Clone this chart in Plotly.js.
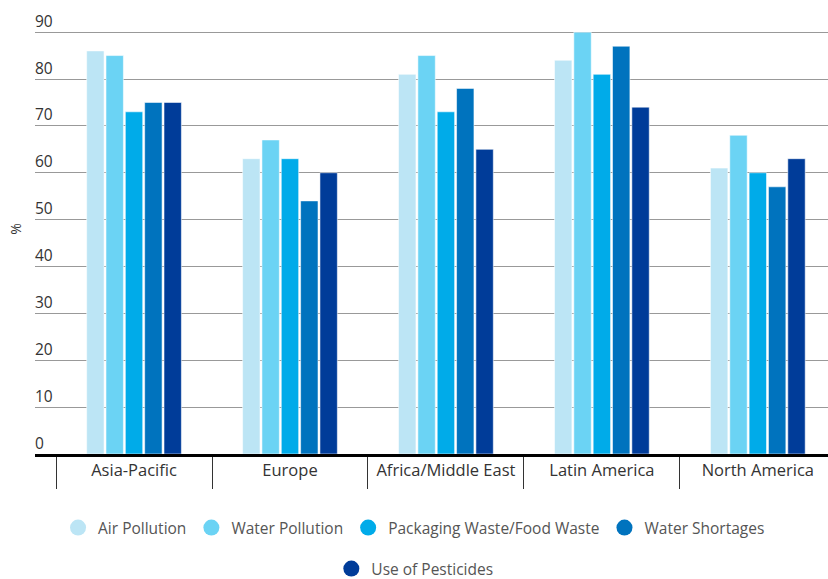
<!DOCTYPE html>
<html>
<head>
<meta charset="utf-8">
<script src="https://cdn.plot.ly/plotly-3.0.1.min.js"></script>
<style>html,body{margin:0;padding:0;background:#fff;}#chart{width:828px;height:579px;}</style>
</head>
<body>
<div id="chart"></div>
<script>
const regions = ["Asia-Pacific", "Europe", "Africa/Middle East", "Latin America", "North America"];
const seriesNames = ["Air Pollution", "Water Pollution", "Packaging Waste/Food Waste", "Water Shortages", "Use of Pesticides"];
const airPollution = [86, 63, 81, 84, 61];
const waterPollution = [85, 67, 85, 90, 68];
const packagingWaste = [73, 63, 73, 81, 60];
const waterShortages = [75, 54, 78, 87, 57];
const pesticides = [75, 60, 65, 74, 63];
const yTicks = [0, 10, 20, 30, 40, 50, 60, 70, 80, 90];

const seriesValues = [airPollution, waterPollution, packagingWaste, waterShortages, pesticides];
const colors = ["#bce5f5", "#6bd3f4", "#00abe9", "#0073be", "#003c99"];
const FONT = "Open Sans, sans-serif";

const traces = [];
seriesValues.forEach((vals, i) => {
  traces.push({
    type: "bar", x: regions, y: vals, name: seriesNames[i],
    marker: {color: colors[i], line: {color: "rgba(255,255,255,0.55)", width: 1}},
    showlegend: false, hoverinfo: "x+y+name"
  });
});
seriesValues.forEach((vals, i) => {
  traces.push({
    type: "scatter", mode: "markers", x: [null], y: [null], name: seriesNames[i],
    marker: {color: colors[i], size: 18, symbol: "circle"},
    legend: i < 4 ? "legend" : "legend2", showlegend: true, hoverinfo: "skip"
  });
});

const legendCommon = {
  orientation: "h", xanchor: "center", yanchor: "middle", yref: "container",
  font: {family: FONT, size: 15.5, color: "#555"}, bgcolor: "rgba(0,0,0,0)"
};

const layout = {
  width: 828, height: 579,
  margin: {l: 35, r: 0, t: 4, b: 125},
  paper_bgcolor: "#fff", plot_bgcolor: "#fff",
  font: {family: FONT, color: "#333"},
  barmode: "group", bargap: 0.38, bargroupgap: 0.1,
  xaxis: {
    type: "category", categoryorder: "array", categoryarray: regions,
    range: [-0.635, 4.45],
    showgrid: false, zeroline: false,
    showline: true, linecolor: "#000", linewidth: 2.5,
    ticks: "outside", tickson: "boundaries", ticklen: 32, tickwidth: 1, tickcolor: "#333",
    ticklabelstandoff: 0,
    tickfont: {family: FONT, size: 16.5, color: "#333"}
  },
  yaxis: {
    range: [0, 96], tickvals: yTicks, ticktext: yTicks.map(String),
    showgrid: true, gridcolor: "#999", gridwidth: 1,
    zeroline: false, showline: false, ticks: "",
    ticklabelposition: "inside top", ticklabelstandoff: -3,
    tickfont: {family: FONT, size: 15.5, color: "#333"},
    title: {text: "%", font: {family: FONT, size: 14, color: "#333"}, standoff: 10}
  },
  legend: Object.assign({x: 0.478, y: (579 - 528) / 579}, legendCommon),
  legend2: Object.assign({x: 0.479, y: (579 - 569) / 579}, legendCommon)
};

Plotly.newPlot("chart", traces, layout, {displayModeBar: false, staticPlot: true});
</script>
</body>
</html>
